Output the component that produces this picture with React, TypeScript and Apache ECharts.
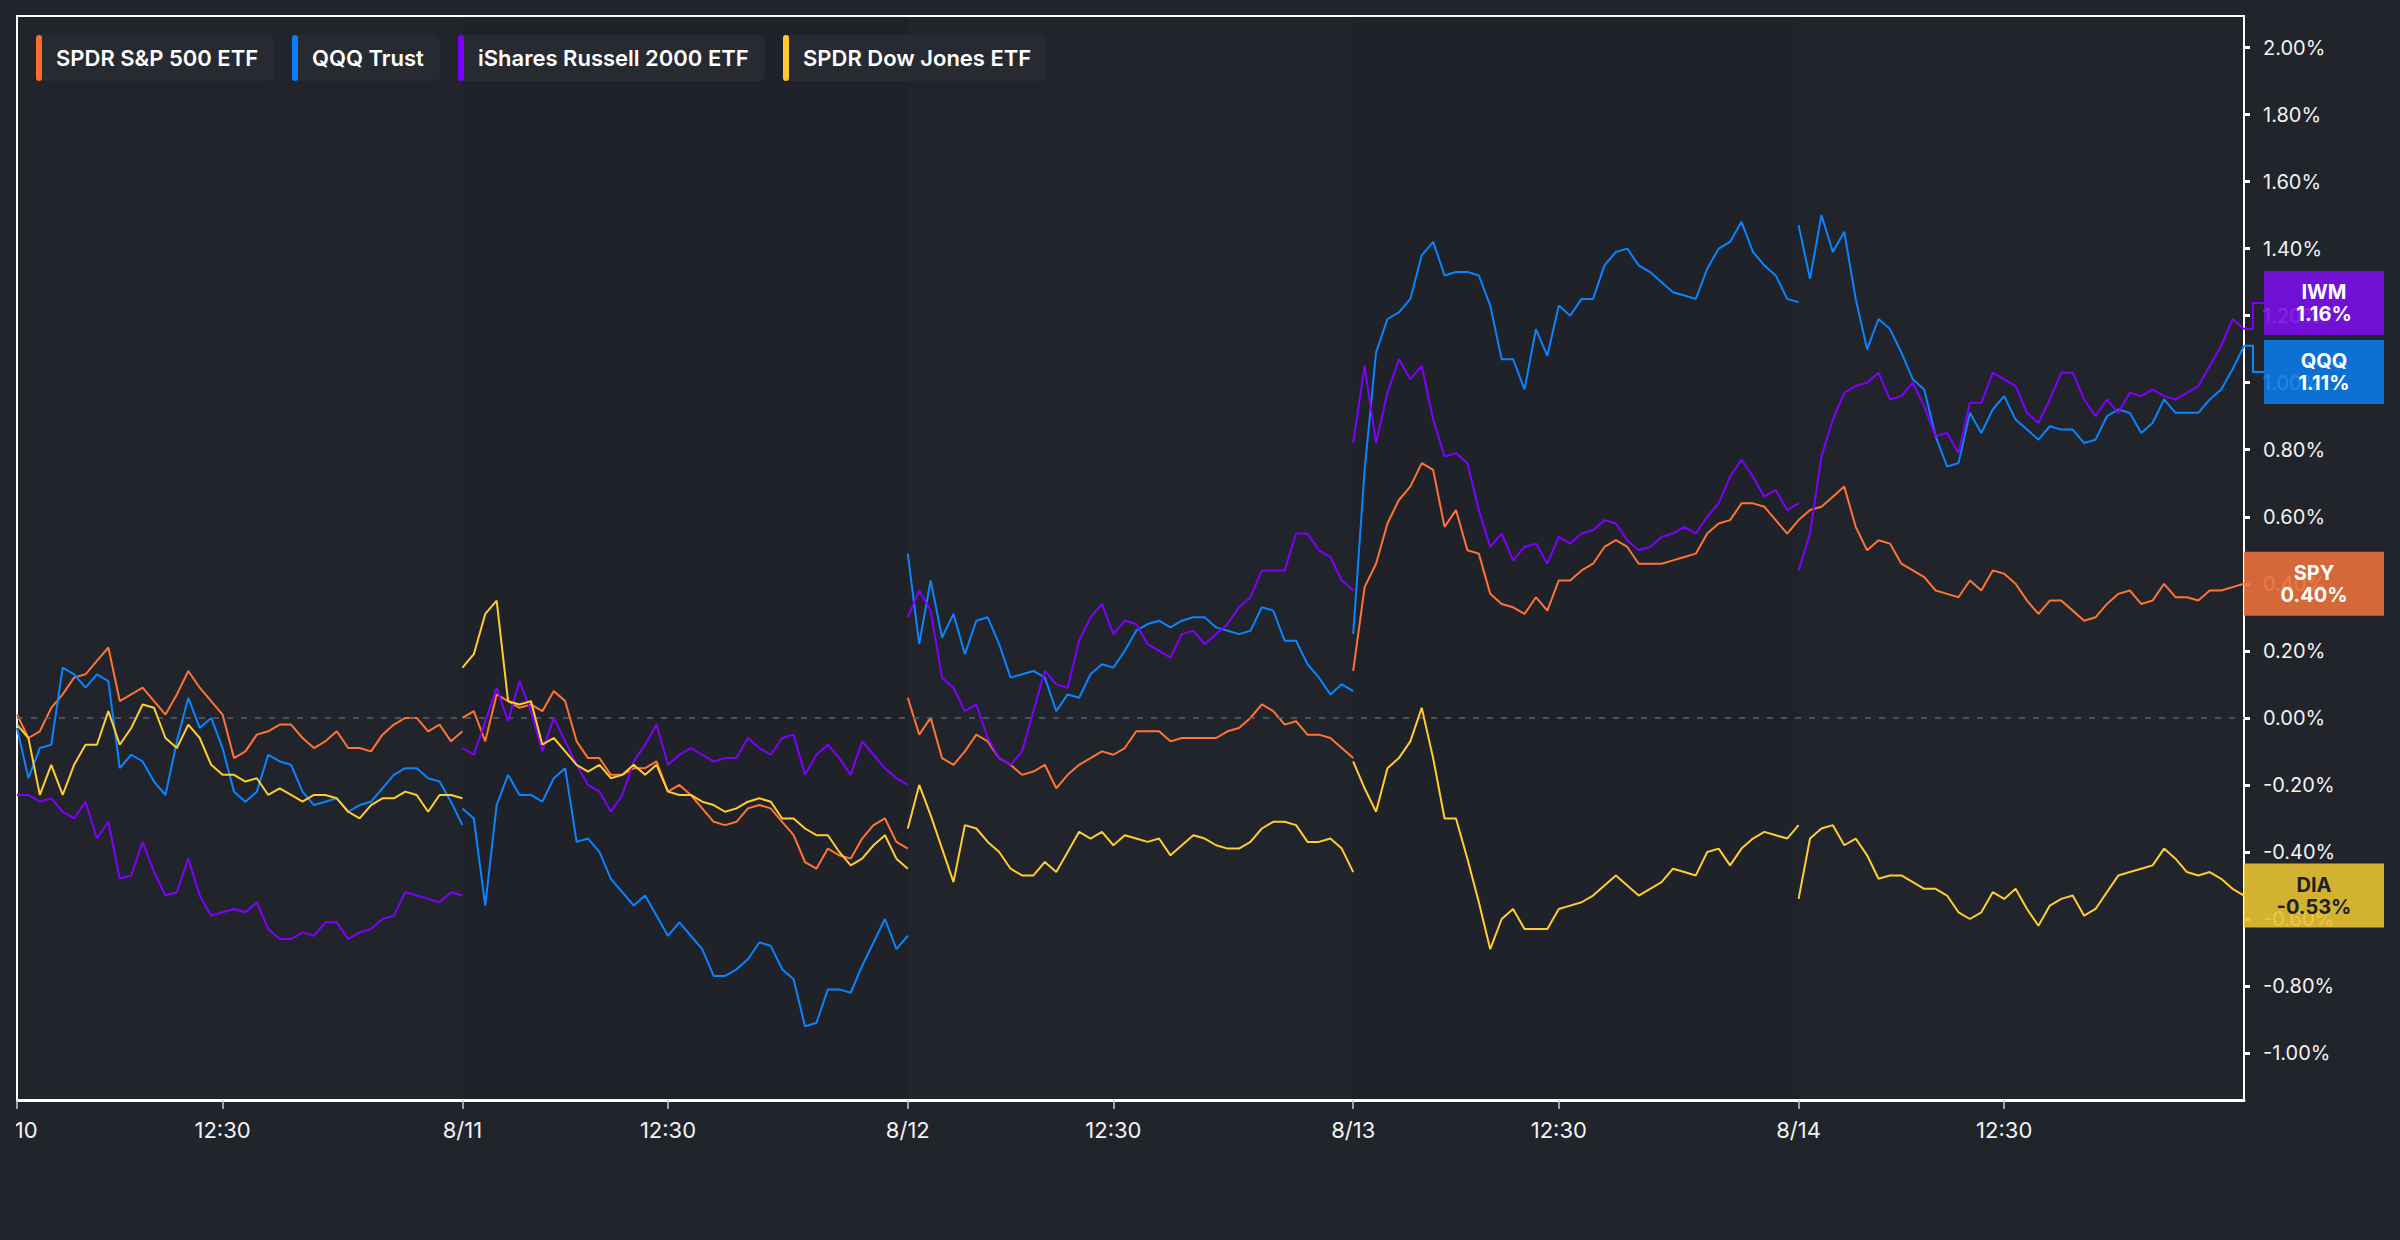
import React, { useEffect, useRef } from "react";
import * as echarts from "echarts";

// ---------- data ----------
const DAYS = ["8/10", "8/11", "8/12", "8/13", "8/14"];
const DAY_LENGTH = 390; // minutes per session (9:30 - 16:00)
const SAMPLE_MINUTES = [
  0, 10, 20, 30, 40, 50, 60, 70, 80, 90, 100, 110, 120, 130, 140, 150, 160, 170, 180, 190,
  200, 210, 220, 230, 240, 250, 260, 270, 280, 290, 300, 310, 320, 330, 340, 350, 360, 370, 380, 390,
];

const X_TICK_POS = [0, 180, 390, 570, 780, 960, 1170, 1350, 1560, 1740];
const X_TICK_LABELS = ["8/10", "12:30", "8/11", "12:30", "8/12", "12:30", "8/13", "12:30", "8/14", "12:30"];
const Y_TICKS = [-1, -0.8, -0.6, -0.4, -0.2, 0, 0.2, 0.4, 0.6, 0.8, 1, 1.2, 1.4, 1.6, 1.8, 2];

// SPY - SPDR S&P 500 ETF (% change)
const SPY_0810 = [0.01, -0.06, -0.04, 0.03, 0.07, 0.12, 0.13, 0.17, 0.21, 0.05, 0.07, 0.09, 0.05, 0.01, 0.07, 0.14, 0.09, 0.05, 0.01, -0.12, -0.1, -0.05, -0.04, -0.02, -0.02, -0.06, -0.09, -0.07, -0.04, -0.09, -0.09, -0.1, -0.05, -0.02, 0, 0, -0.04, -0.02, -0.07, -0.04];
const SPY_0811 = [0, 0.02, -0.07, 0.07, 0.05, 0.03, 0.04, 0.02, 0.08, 0.05, -0.07, -0.12, -0.12, -0.17, -0.17, -0.15, -0.15, -0.13, -0.22, -0.2, -0.23, -0.27, -0.31, -0.32, -0.31, -0.27, -0.26, -0.27, -0.31, -0.35, -0.43, -0.45, -0.39, -0.41, -0.42, -0.36, -0.32, -0.3, -0.37, -0.39];
const SPY_0812 = [0.06, -0.05, 0, -0.12, -0.14, -0.1, -0.05, -0.07, -0.12, -0.14, -0.17, -0.16, -0.14, -0.21, -0.17, -0.14, -0.12, -0.1, -0.11, -0.09, -0.04, -0.04, -0.04, -0.07, -0.06, -0.06, -0.06, -0.06, -0.04, -0.03, 0, 0.04, 0.02, -0.02, -0.01, -0.05, -0.05, -0.06, -0.09, -0.12];
const SPY_0813 = [0.14, 0.39, 0.46, 0.58, 0.65, 0.69, 0.76, 0.74, 0.57, 0.62, 0.5, 0.49, 0.37, 0.34, 0.33, 0.31, 0.36, 0.32, 0.41, 0.41, 0.44, 0.46, 0.51, 0.53, 0.51, 0.46, 0.46, 0.46, 0.47, 0.48, 0.49, 0.55, 0.58, 0.59, 0.64, 0.64, 0.63, 0.59, 0.55, 0.59];
const SPY_0814 = [0.59, 0.62, 0.63, 0.66, 0.69, 0.57, 0.5, 0.53, 0.52, 0.46, 0.44, 0.42, 0.38, 0.37, 0.36, 0.41, 0.38, 0.44, 0.43, 0.4, 0.35, 0.31, 0.35, 0.35, 0.32, 0.29, 0.3, 0.34, 0.37, 0.38, 0.34, 0.35, 0.4, 0.36, 0.36, 0.35, 0.38, 0.38, 0.39, 0.4];

// QQQ - QQQ Trust
const QQQ_0810 = [-0.03, -0.18, -0.09, -0.08, 0.15, 0.13, 0.09, 0.13, 0.11, -0.15, -0.11, -0.13, -0.19, -0.23, -0.07, 0.06, -0.03, 0, -0.09, -0.22, -0.25, -0.22, -0.11, -0.13, -0.14, -0.22, -0.26, -0.25, -0.24, -0.28, -0.26, -0.25, -0.21, -0.17, -0.15, -0.15, -0.18, -0.19, -0.25, -0.32];
const QQQ_0811 = [-0.27, -0.3, -0.56, -0.26, -0.17, -0.23, -0.23, -0.25, -0.18, -0.15, -0.37, -0.36, -0.4, -0.48, -0.52, -0.56, -0.53, -0.59, -0.65, -0.61, -0.65, -0.69, -0.77, -0.77, -0.75, -0.72, -0.67, -0.68, -0.75, -0.78, -0.92, -0.91, -0.81, -0.81, -0.82, -0.74, -0.67, -0.6, -0.69, -0.65];
const QQQ_0812 = [0.49, 0.22, 0.41, 0.24, 0.31, 0.19, 0.29, 0.3, 0.22, 0.12, 0.13, 0.14, 0.12, 0.02, 0.07, 0.06, 0.13, 0.16, 0.15, 0.2, 0.26, 0.28, 0.29, 0.27, 0.29, 0.3, 0.3, 0.27, 0.26, 0.25, 0.26, 0.33, 0.32, 0.23, 0.23, 0.16, 0.12, 0.07, 0.1, 0.08];
const QQQ_0813 = [0.25, 0.74, 1.09, 1.19, 1.21, 1.25, 1.38, 1.42, 1.32, 1.33, 1.33, 1.32, 1.23, 1.07, 1.07, 0.98, 1.16, 1.08, 1.23, 1.2, 1.25, 1.25, 1.35, 1.39, 1.4, 1.35, 1.33, 1.3, 1.27, 1.26, 1.25, 1.34, 1.4, 1.42, 1.48, 1.39, 1.35, 1.32, 1.25, 1.24];
const QQQ_0814 = [1.47, 1.31, 1.5, 1.39, 1.45, 1.25, 1.1, 1.19, 1.16, 1.09, 1.01, 0.98, 0.84, 0.75, 0.76, 0.91, 0.85, 0.92, 0.96, 0.89, 0.86, 0.83, 0.87, 0.86, 0.86, 0.82, 0.83, 0.9, 0.92, 0.91, 0.85, 0.88, 0.95, 0.91, 0.91, 0.91, 0.95, 0.98, 1.04, 1.11];

// IWM - iShares Russell 2000 ETF
const IWM_0810 = [-0.23, -0.23, -0.25, -0.24, -0.28, -0.3, -0.25, -0.36, -0.31, -0.48, -0.47, -0.37, -0.46, -0.53, -0.52, -0.42, -0.53, -0.59, -0.58, -0.57, -0.58, -0.55, -0.63, -0.66, -0.66, -0.64, -0.65, -0.61, -0.61, -0.66, -0.64, -0.63, -0.6, -0.59, -0.52, -0.53, -0.54, -0.55, -0.52, -0.53];
const IWM_0811 = [-0.09, -0.11, -0.01, 0.09, -0.01, 0.11, 0.02, -0.1, 0, -0.07, -0.14, -0.2, -0.22, -0.28, -0.23, -0.13, -0.08, -0.02, -0.14, -0.11, -0.09, -0.11, -0.13, -0.12, -0.12, -0.06, -0.09, -0.11, -0.06, -0.05, -0.17, -0.11, -0.08, -0.12, -0.17, -0.07, -0.11, -0.15, -0.18, -0.2];
const IWM_0812 = [0.3, 0.38, 0.32, 0.12, 0.09, 0.02, 0.04, -0.06, -0.12, -0.14, -0.1, 0.02, 0.14, 0.1, 0.09, 0.23, 0.3, 0.34, 0.25, 0.29, 0.28, 0.22, 0.2, 0.18, 0.25, 0.26, 0.22, 0.25, 0.28, 0.33, 0.36, 0.44, 0.44, 0.44, 0.55, 0.55, 0.5, 0.48, 0.41, 0.38];
const IWM_0813 = [0.82, 1.05, 0.82, 0.97, 1.07, 1.01, 1.05, 0.89, 0.78, 0.79, 0.76, 0.62, 0.51, 0.55, 0.47, 0.51, 0.52, 0.46, 0.54, 0.52, 0.55, 0.56, 0.59, 0.58, 0.53, 0.5, 0.51, 0.54, 0.55, 0.57, 0.55, 0.6, 0.64, 0.72, 0.77, 0.72, 0.66, 0.68, 0.62, 0.64];
const IWM_0814 = [0.44, 0.55, 0.78, 0.89, 0.97, 0.99, 1.0, 1.03, 0.95, 0.96, 1.0, 0.93, 0.84, 0.85, 0.79, 0.94, 0.94, 1.03, 1.01, 0.99, 0.91, 0.88, 0.95, 1.03, 1.03, 0.95, 0.9, 0.95, 0.91, 0.97, 0.96, 0.98, 0.96, 0.95, 0.97, 0.99, 1.05, 1.11, 1.19, 1.16];

// DIA - SPDR Dow Jones ETF
const DIA_0810 = [-0.02, -0.06, -0.23, -0.14, -0.23, -0.14, -0.08, -0.08, 0.02, -0.08, -0.03, 0.04, 0.03, -0.06, -0.09, -0.02, -0.06, -0.14, -0.17, -0.17, -0.19, -0.18, -0.23, -0.21, -0.23, -0.25, -0.23, -0.23, -0.24, -0.28, -0.3, -0.26, -0.24, -0.24, -0.22, -0.23, -0.28, -0.23, -0.23, -0.24];
const DIA_0811 = [0.15, 0.19, 0.31, 0.35, 0.05, 0.04, 0.05, -0.08, -0.06, -0.1, -0.14, -0.16, -0.14, -0.18, -0.17, -0.14, -0.17, -0.14, -0.22, -0.23, -0.23, -0.25, -0.26, -0.28, -0.27, -0.25, -0.24, -0.25, -0.3, -0.3, -0.33, -0.35, -0.35, -0.4, -0.44, -0.42, -0.38, -0.35, -0.42, -0.45];
const DIA_0812 = [-0.33, -0.2, -0.29, -0.39, -0.49, -0.32, -0.33, -0.37, -0.4, -0.45, -0.47, -0.47, -0.43, -0.46, -0.4, -0.34, -0.36, -0.34, -0.38, -0.35, -0.36, -0.37, -0.36, -0.41, -0.38, -0.35, -0.36, -0.38, -0.39, -0.39, -0.37, -0.33, -0.31, -0.31, -0.32, -0.37, -0.37, -0.36, -0.39, -0.46];
const DIA_0813 = [-0.13, -0.21, -0.28, -0.15, -0.12, -0.07, 0.03, -0.12, -0.3, -0.3, -0.42, -0.55, -0.69, -0.6, -0.57, -0.63, -0.63, -0.63, -0.57, -0.56, -0.55, -0.53, -0.5, -0.47, -0.5, -0.53, -0.51, -0.49, -0.45, -0.46, -0.47, -0.4, -0.39, -0.44, -0.39, -0.36, -0.34, -0.35, -0.36, -0.32];
const DIA_0814 = [-0.54, -0.36, -0.33, -0.32, -0.38, -0.36, -0.41, -0.48, -0.47, -0.47, -0.49, -0.51, -0.51, -0.53, -0.58, -0.6, -0.58, -0.52, -0.54, -0.51, -0.57, -0.62, -0.56, -0.54, -0.53, -0.59, -0.57, -0.52, -0.47, -0.46, -0.45, -0.44, -0.39, -0.42, -0.46, -0.47, -0.46, -0.48, -0.51, -0.53];

const SERIES_NAMES = ["SPDR S&P 500 ETF", "QQQ Trust", "iShares Russell 2000 ETF", "SPDR Dow Jones ETF"];
const TICKERS = ["SPY", "QQQ", "IWM", "DIA"];
const SERIES_DAYS = [
  [SPY_0810, SPY_0811, SPY_0812, SPY_0813, SPY_0814],
  [QQQ_0810, QQQ_0811, QQQ_0812, QQQ_0813, QQQ_0814],
  [IWM_0810, IWM_0811, IWM_0812, IWM_0813, IWM_0814],
  [DIA_0810, DIA_0811, DIA_0812, DIA_0813, DIA_0814],
];

// ---------- styles ----------
const BG = "#21242b";
const CHIP_BG = "#272a31";
const LINE_COLORS = ["#ff7433", "#0a84ff", "#8000ff", "#ffcc33"];
const LEGEND_COLORS = ["#ff6b2b", "#0a7cff", "#7a00ff", "#ffc82c"];
const BOX_COLORS = ["#e8703a", "#0a7ae6", "#7a10e8", "#e8c232"];
const BOX_TEXT = ["#ffffff", "#ffffff", "#ffffff", "#1c1f25"];
const FONT = "Inter, 'Noto Sans', sans-serif";

function buildData(days: number[][]) {
  const out: any[] = [];
  days.forEach((vals, d) => {
    vals.forEach((v, i) => out.push([d * DAY_LENGTH + SAMPLE_MINUTES[i], v]));
    if (d < days.length - 1) out.push([(d + 1) * DAY_LENGTH, "-"]);
  });
  return out;
}

export default function App() {
  const ref = useRef<HTMLDivElement>(null);

  useEffect(() => {
    if (!ref.current) return;
    const chart = echarts.init(ref.current, null, { renderer: "svg" });
    const xMax = DAYS.length * DAY_LENGTH;

    const series: any[] = SERIES_NAMES.map((name, i) => ({
      name,
      type: "line",
      data: buildData(SERIES_DAYS[i]),
      showSymbol: false,
      symbol: "none",
      connectNulls: false,
      z: 3 + i,
      lineStyle: { color: LINE_COLORS[i], width: 2 },
      itemStyle: { color: LINE_COLORS[i] },
      emphasis: { disabled: true },
    }));
    series[0].markLine = {
      silent: true,
      symbol: ["none", "none"],
      label: { show: false },
      lineStyle: { color: "#5c6169", type: [6, 8], width: 1.5 },
      data: [{ yAxis: 0 }],
    };
    series[0].markArea = {
      silent: true,
      itemStyle: { color: "rgba(0,0,0,0.05)" },
      data: [
        [{ xAxis: DAY_LENGTH }, { xAxis: 2 * DAY_LENGTH }],
        [{ xAxis: 3 * DAY_LENGTH }, { xAxis: 4 * DAY_LENGTH }],
      ],
    };

    chart.setOption({
      animation: false,
      backgroundColor: BG,
      textStyle: { fontFamily: FONT },
      grid: {
        left: 17,
        right: 156,
        top: 16,
        bottom: 140,
        containLabel: false,
        outerBoundsMode: "none",
        show: true,
        borderColor: "#ffffff",
        borderWidth: 2,
        backgroundColor: "transparent",
      },
      xAxis: {
        type: "value",
        min: 0,
        max: xMax,
        axisLine: { show: true, onZero: false, lineStyle: { color: "#ffffff", width: 3 } },
        axisTick: {
          show: true,
          customValues: X_TICK_POS,
          length: 9,
          lineStyle: { color: "#c9cdd3", width: 1.5 },
        },
        axisLabel: {
          customValues: X_TICK_POS,
          formatter: (v: number) => {
            const i = X_TICK_POS.indexOf(Math.round(v));
            if (i < 0) return "";
            // first label sits on the left edge of the frame and is partly cut off there
            return i === 0 ? `{edge|${X_TICK_LABELS[i]}}` : X_TICK_LABELS[i];
          },
          color: "#f2f2f2",
          fontSize: 22,
          fontFamily: FONT,
          margin: 19,
          rich: {
            edge: {
              color: "#f2f2f2",
              fontSize: 22,
              fontFamily: FONT,
              padding: [0, 3, 0, 0],
            },
          },
        },
        splitLine: { show: false },
      },
      yAxis: {
        type: "value",
        position: "right",
        min: -1.14,
        max: 2.094,
        axisLine: { show: false, onZero: false },
        splitLine: { show: false },
        axisTick: {
          show: true,
          inside: false,
          customValues: Y_TICKS,
          length: 6,
          lineStyle: { color: "#ffffff", width: 3 },
        },
        axisLabel: {
          customValues: Y_TICKS,
          formatter: (v: number) => v.toFixed(2) + "%",
          color: "#f2f2f2",
          fontSize: 20,
          fontFamily: FONT,
          margin: 19,
        },
      },
      series,
    });

    // ----- legend chips (graphic) -----
    const elements: any[] = [];
    const canvas = document.createElement("canvas");
    const ctx = canvas.getContext("2d")!;
    const legendFont = `600 22px ${FONT}`;
    ctx.font = legendFont;
    let lx = 36;
    const chipY = 35;
    const chipH = 46;
    SERIES_NAMES.forEach((name, i) => {
      const tw = ctx.measureText(name).width;
      const cw = Math.round(tw + 36);
      elements.push({
        type: "rect",
        silent: true,
        z: 20,
        shape: { x: lx, y: chipY, width: cw, height: chipH, r: 6 },
        style: { fill: CHIP_BG },
      });
      elements.push({
        type: "rect",
        silent: true,
        z: 21,
        shape: { x: lx, y: chipY, width: 6, height: chipH, r: 3 },
        style: { fill: LEGEND_COLORS[i] },
      });
      elements.push({
        type: "text",
        silent: true,
        z: 22,
        x: lx + 20,
        y: chipY + chipH / 2,
        style: {
          text: name,
          font: legendFont,
          fill: "#ffffff",
          align: "left",
          textAlign: "left",
          verticalAlign: "middle",
          textVerticalAlign: "middle",
        },
      });
      lx += cw + 18;
    });

    // ----- last-value boxes -----
    const right = chart.convertToPixel({ xAxisIndex: 0 }, xMax) as number;
    const BOX_R = right + 140;
    const H = 64;
    const GAP = 5;
    const items = TICKERS.map((t, i) => {
      const days = SERIES_DAYS[i];
      const lastDay = days[days.length - 1];
      const v = lastDay[lastDay.length - 1];
      return { i, t, v, vy: chart.convertToPixel({ yAxisIndex: 0 }, v) as number, by: 0 };
    });
    let clusters = items.map((it) => ({ members: [it], center: it.vy }));
    let merged = true;
    while (merged) {
      merged = false;
      clusters.sort((a, b) => a.center - b.center);
      for (let k = 0; k < clusters.length - 1; k++) {
        const a = clusters[k];
        const b = clusters[k + 1];
        const aBottom = a.center + (a.members.length * (H + GAP) - GAP) / 2;
        const bTop = b.center - (b.members.length * (H + GAP) - GAP) / 2;
        if (bTop < aBottom + GAP) {
          const members = [...a.members, ...b.members];
          const center = members.reduce((s, m) => s + m.vy, 0) / members.length;
          clusters.splice(k, 2, { members, center });
          merged = true;
          break;
        }
      }
    }
    clusters.forEach((c) => {
      const total = c.members.length * (H + GAP) - GAP;
      let top = c.center - total / 2;
      c.members
        .sort((a, b) => a.vy - b.vy)
        .forEach((m) => {
          m.by = top + H / 2;
          top += H + GAP;
        });
    });

    items.forEach((m) => {
      const shifted = Math.abs(m.by - m.vy) > 1;
      const left = shifted ? right + 20 : right;
      if (shifted) {
        elements.push({
          type: "polyline",
          silent: true,
          z: 30,
          shape: {
            points: [
              [right, m.vy],
              [right + 9, m.vy],
              [right + 9, m.by],
              [left, m.by],
            ],
          },
          style: { stroke: LINE_COLORS[m.i], lineWidth: 2, fill: null },
        });
      }
      elements.push({
        type: "rect",
        silent: true,
        z: 31,
        shape: { x: left, y: m.by - H / 2, width: BOX_R - left, height: H },
        style: { fill: BOX_COLORS[m.i], opacity: 0.9 },
      });
      elements.push({
        type: "text",
        silent: true,
        z: 32,
        x: (left + BOX_R) / 2,
        y: m.by,
        style: {
          text: `${m.t}\n${m.v.toFixed(2)}%`,
          font: `700 20px ${FONT}`,
          lineHeight: 22,
          fill: BOX_TEXT[m.i],
          align: "center",
          textAlign: "center",
          verticalAlign: "middle",
          textVerticalAlign: "middle",
        },
      });
    });

    chart.setOption({ graphic: { elements } });

    return () => {
      chart.dispose();
    };
  }, []);

  return (
    <div
      style={{
        position: "fixed",
        left: 0,
        top: 0,
        width: 2400,
        height: 1240,
        background: BG,
        overflow: "hidden",
      }}
    >
      <div
        style={{
          position: "absolute",
          left: 16,
          top: 0,
          width: 2384,
          height: 1240,
          overflow: "hidden",
        }}
      >
        <div
          ref={ref}
          style={{ position: "absolute", left: -16, top: 0, width: 2400, height: 1240 }}
        />
      </div>
    </div>
  );
}
